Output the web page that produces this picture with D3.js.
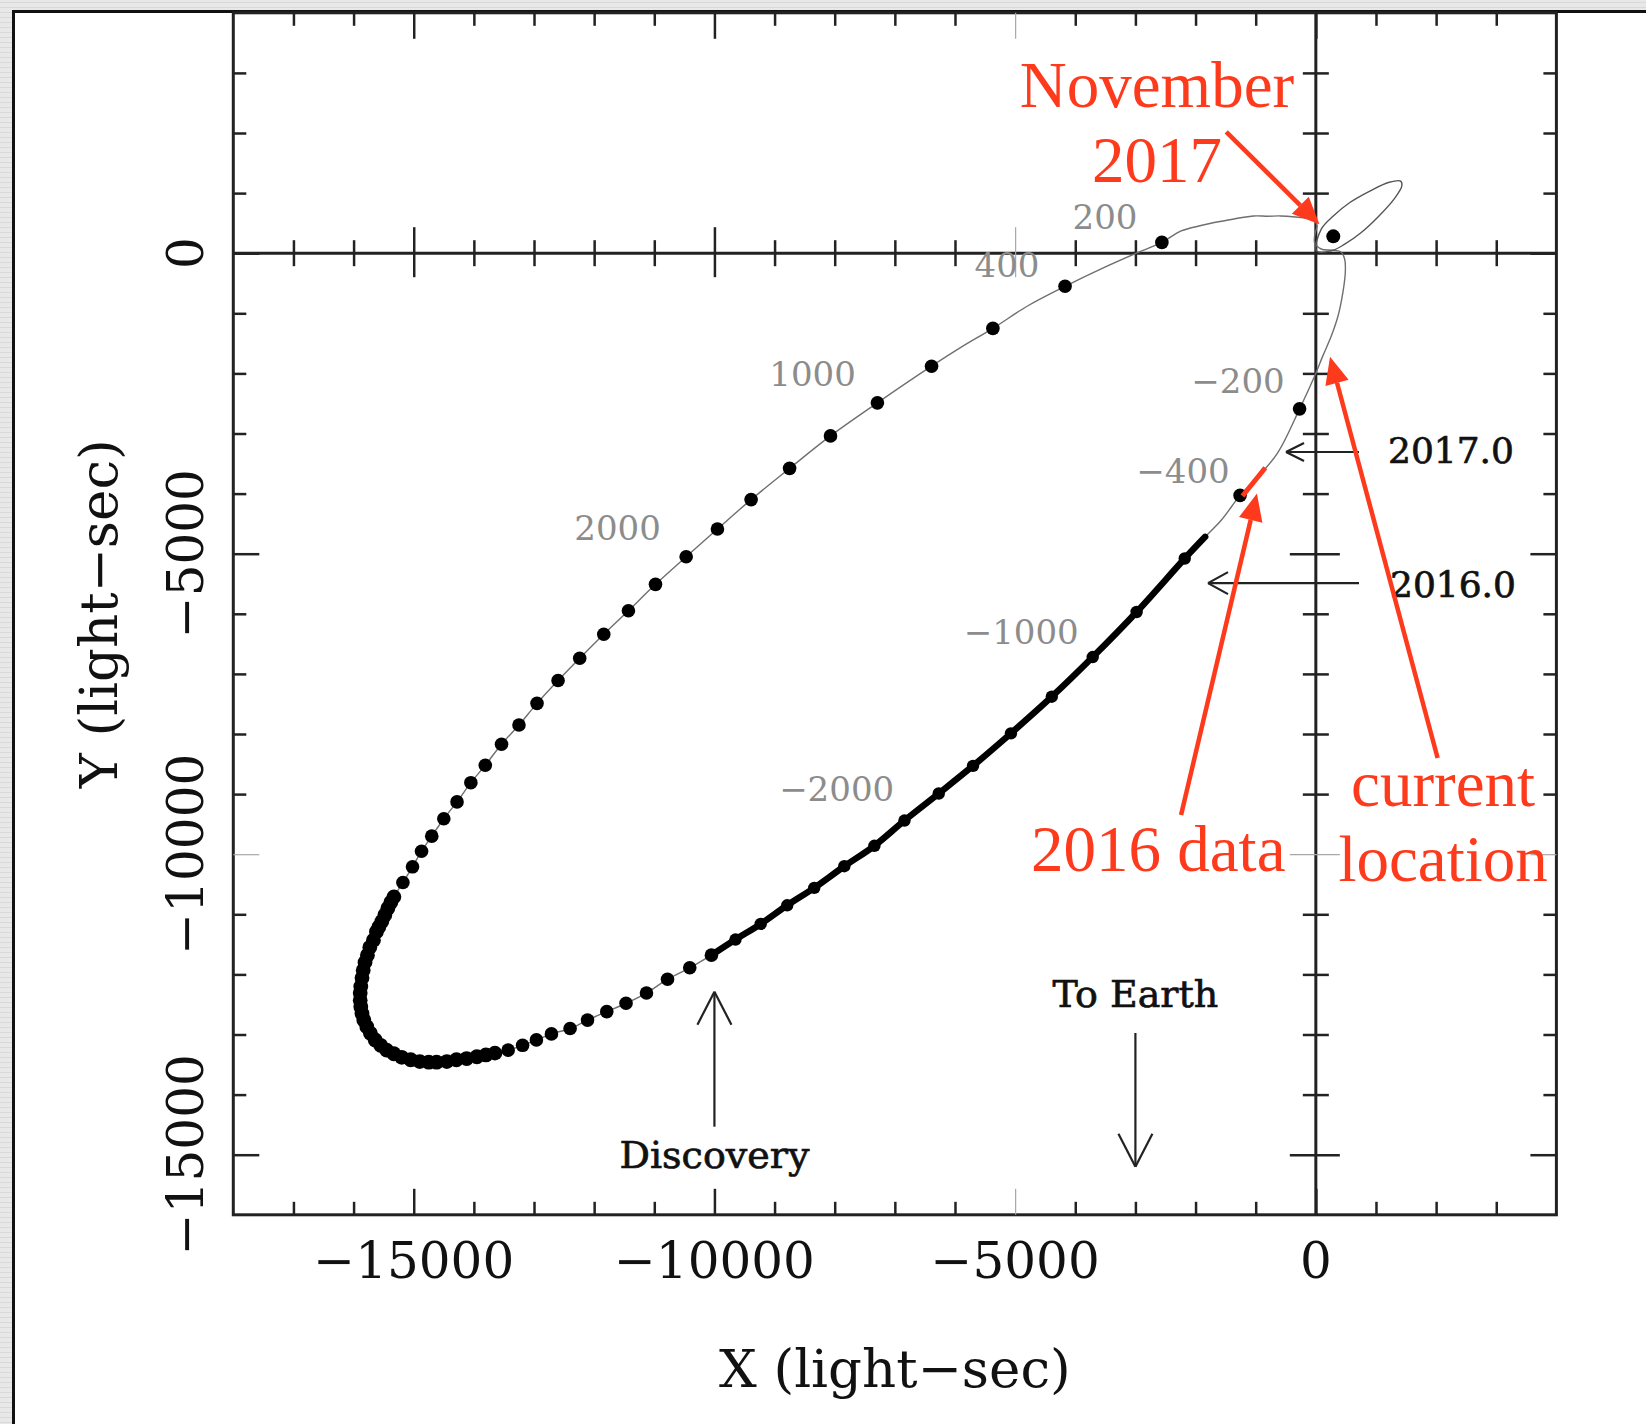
<!DOCTYPE html>
<html>
<head>
<meta charset="utf-8">
<script src="https://cdn.jsdelivr.net/npm/d3@7"></script>
<style>
  body { margin: 0; background: #fff; }
  svg { display: block; }
</style>
</head>
<body>
<svg id="chart" width="1646" height="1424"></svg>
<script>
// ---------------------------------------------------------------
// Pulsar orbit (light-seconds), traced from discovery along the
// lower branch, through periastron, back round the far end.
// ---------------------------------------------------------------
const orbitTrack = [
  [-10050, -11680], [-9650, -11420], [-9230, -11160], [-8790, -10850], [-8340, -10560],
  [-7840, -10200], [-7340, -9860], [-6840, -9440], [-6270, -8990], [-5700, -8530],
  [-5070, -7990], [-4390, -7380], [-3710, -6720], [-2980, -5970], [-2180, -5080],
  [-1840, -4720], [-1570, -4440], [-1260, -4030], [-1020, -3780], [-640, -3330],
  [-270, -2590], [-40, -2090], [120, -1700], [260, -1370], [370, -1040],
  [450, -650], [490, -320], [480, -100], [420, 20], [290, 50],
  [90, 70], [-20, 180], [-10, 340], [20, 460], [-40, 550],
  [-210, 590], [-590, 620], [-800, 615], [-1030, 620], [-1360, 570],
  [-1690, 510], [-1910, 460], [-2240, 370], [-2560, 180], [-3010, -10],
  [-3570, -260], [-4170, -550], [-4780, -870], [-5370, -1250], [-5890, -1560],
  [-6390, -1880], [-7290, -2490], [-8070, -3040], [-8750, -3580], [-9390, -4100],
  [-9950, -4590], [-10470, -5050], [-10980, -5510], [-11430, -5950], [-11840, -6340],
  [-12240, -6740], [-12600, -7110], [-12950, -7490], [-13250, -7850], [-13540, -8170],
  [-13810, -8520], [-14050, -8810], [-14280, -9130], [-14500, -9410], [-14700, -9700],
  [-14870, -9950], [-15020, -10210], [-15180, -10470], [-15330, -10710], [-15430, -10900],
  [-15530, -11120], [-15620, -11340], [-15700, -11570], [-15770, -11790], [-15840, -12010],
  [-15880, -12230], [-15890, -12430], [-15870, -12650], [-15780, -12870], [-15640, -13090],
  [-15450, -13260], [-15200, -13380], [-14900, -13450], [-14620, -13460], [-14290, -13420],
  [-13950, -13370], [-13650, -13310], [-13430, -13260], [-13190, -13180], [-12960, -13090],
  [-12710, -12990], [-12400, -12900], [-12110, -12760], [-11790, -12620], [-11470, -12480],
  [-11130, -12310], [-10780, -12080], [-10410, -11890]
];

// Timing coverage since discovery (drawn heavy)
const timedArc = [
  [-10050, -11680], [-9650, -11420], [-9230, -11160], [-8790, -10850], [-8340, -10560],
  [-7840, -10200], [-7340, -9860], [-6840, -9440], [-6270, -8990], [-5700, -8530],
  [-5070, -7990], [-4390, -7380], [-3710, -6720], [-2980, -5970], [-2180, -5080],
  [-1840, -4720]
];

// Positions at regular epochs along the orbit
const epochDots = [
  [-2560, 180], [-4170, -550], [-5370, -1250], [-6390, -1880], [-7290, -2490],
  [-8070, -3040], [-8750, -3580], [-9390, -4100], [-9950, -4590], [-10470, -5050],
  [-10980, -5510], [-11430, -5950], [-11840, -6340], [-12240, -6740], [-12600, -7110],
  [-12950, -7490], [-13250, -7850], [-13540, -8170], [-13810, -8520], [-14050, -8810],
  [-14280, -9130], [-14500, -9410], [-14700, -9700], [-14870, -9950], [-15020, -10210],
  [-15180, -10470],
  [-13430, -13260], [-13190, -13180], [-12960, -13090], [-12710, -12990], [-12400, -12900],
  [-12110, -12760], [-11790, -12620], [-11470, -12480], [-11130, -12310], [-10780, -12080],
  [-10410, -11890], [-10050, -11680],
  [-1260, -4030], [-270, -2590]
];
// Epoch positions crowded together round apastron
const apastronDots = [
  [-15330, -10710], [-15380, -10800], [-15430, -10900], [-15480, -11010], [-15530, -11120],
  [-15580, -11210], [-15620, -11290], [-15670, -11430], [-15730, -11550], [-15770, -11680],
  [-15810, -11800], [-15840, -11930], [-15860, -12060], [-15880, -12200], [-15890, -12310],
  [-15890, -12430], [-15880, -12540], [-15860, -12650], [-15830, -12760], [-15780, -12870],
  [-15720, -12980], [-15640, -13090], [-15550, -13180], [-15450, -13260], [-15330, -13320],
  [-15200, -13380], [-15050, -13420], [-14900, -13450], [-14750, -13460], [-14620, -13460],
  [-14450, -13450], [-14290, -13420], [-14120, -13400], [-13950, -13370], [-13800, -13340],
  [-13650, -13310]
];
const timedDots = [
  [-9650, -11420], [-9230, -11160], [-8790, -10850], [-8340, -10560], [-7840, -10200],
  [-7340, -9860], [-6840, -9440], [-6270, -8990], [-5700, -8530], [-5070, -7990],
  [-4390, -7380], [-3710, -6720], [-2980, -5970], [-2180, -5080]
];

// Companion's own orbit about the centre of mass, and its present place
const companionOrbit = [
  [10, 40], [90, 400], [290, 620], [560, 840], [890, 1030], [1220, 1180],
  [1410, 1200], [1430, 1120], [1300, 900], [1050, 620], [750, 340],
  [480, 150], [260, 40]
];
const companionNow = [[290, 280]];

// Days from periastron written along the orbit
const dayValues = [200, 400, 1000, 2000, -200, -400, -1000, -2000];
const dayAnchors = [
  [-3505, 607], [-5135, -196], [-8369, -2010], [-11611, -4572],
  [-1294, -2126], [-2208, -3624], [-4899, -6296], [-7968, -8915]
];

// Stretch covered by the 2016 observations
const obs2016 = [[-1220, -4040], [-840, -3570]];

// Axis ticks
const xDomain = [-18000, 4000];
const yDomain = [-16000, 4000];
const xTickValues = d3.range(-17000, 4000, 1000);
const yTickValues = d3.range(-15000, 4000, 1000);
const xTickLabels = [-15000, -10000, -5000, 0];
const yTickLabels = [0, -5000, -10000, -15000];
const xFaint = [-5000];
const yFaint = [-10000];

// ---------------------------------------------------------------
const W = 1646, H = 1424;
const svg = d3.select("#chart");

const x = d3.scaleLinear().domain(xDomain).range([233.3, 1556.4]);
const y = d3.scaleLinear().domain(yDomain).range([1214.8, 12.8]);

const INK = "#222";
const RED = "#fe3a1c";
const SERIF = "'DejaVu Serif', serif";
const ROMAN = "'Liberation Serif', 'Times New Roman', serif";

// slide background and border
const defs = svg.append("defs");
const linen = defs.append("pattern").attr("id", "linen")
  .attr("patternUnits", "userSpaceOnUse").attr("width", 9).attr("height", 5);
linen.append("rect").attr("width", 9).attr("height", 5).attr("fill", "#e8e8e8");
linen.append("rect").attr("y", 2).attr("width", 9).attr("height", 1).attr("fill", "#d9d9d9");
svg.append("rect").attr("width", W).attr("height", H).attr("fill", "url(#linen)");
svg.append("rect").attr("x", 13).attr("y", 11).attr("width", W - 13).attr("height", H - 11).attr("fill", "#fff");
svg.append("path").attr("d", `M13.5,${H} V11.5 H${W}`)
  .attr("fill", "none").attr("stroke", "#111").attr("stroke-width", 3);

// plot frame
const x0 = x(xDomain[0]), x1 = x(xDomain[1]), yT = y(yDomain[1]), yB = y(yDomain[0]);
svg.append("rect").attr("x", x0).attr("y", yT).attr("width", x1 - x0).attr("height", yB - yT)
  .attr("fill", "none").attr("stroke", INK).attr("stroke-width", 3);

// zero axes through the plot
svg.append("line").attr("x1", x0).attr("x2", x1).attr("y1", y(0)).attr("y2", y(0))
  .attr("stroke", INK).attr("stroke-width", 3);
svg.append("line").attr("x1", x(0)).attr("x2", x(0)).attr("y1", yT).attr("y2", yB)
  .attr("stroke", INK).attr("stroke-width", 3);

const MINOR = 13, MAJOR = 26;
const isMajor = v => v % 5000 === 0;
function styleTicks(g, faint) {
  g.select(".domain").remove();
  g.selectAll(".tick text").remove();
  g.selectAll(".tick line")
    .attr("stroke", d => faint.includes(d) ? "#a8a8a8" : INK)
    .attr("stroke-width", d => faint.includes(d) ? 1.2 : 2.5);
}

// frame ticks
svg.append("g").attr("transform", `translate(0,${yT})`)
  .call(d3.axisBottom(x).tickValues(xTickValues).tickFormat(""))
  .call(g => styleTicks(g, xFaint))
  .call(g => g.selectAll(".tick line").attr("y2", d => isMajor(d) ? MAJOR : MINOR));
svg.append("g").attr("transform", `translate(0,${yB})`)
  .call(d3.axisTop(x).tickValues(xTickValues).tickFormat(""))
  .call(g => styleTicks(g, xFaint))
  .call(g => g.selectAll(".tick line").attr("y2", d => isMajor(d) ? -MAJOR : -MINOR));
svg.append("g").attr("transform", `translate(${x0},0)`)
  .call(d3.axisRight(y).tickValues(yTickValues).tickFormat(""))
  .call(g => styleTicks(g, yFaint))
  .call(g => g.selectAll(".tick line").attr("x2", d => isMajor(d) ? MAJOR : MINOR));
svg.append("g").attr("transform", `translate(${x1},0)`)
  .call(d3.axisLeft(y).tickValues(yTickValues).tickFormat(""))
  .call(g => styleTicks(g, yFaint))
  .call(g => g.selectAll(".tick line").attr("x2", d => isMajor(d) ? -MAJOR : -MINOR));

// ticks crossing the zero axes
svg.append("g").attr("transform", `translate(0,${y(0)})`)
  .call(d3.axisBottom(x).tickValues(xTickValues.filter(v => v !== 0)).tickFormat(""))
  .call(g => styleTicks(g, xFaint))
  .call(g => g.selectAll(".tick line")
    .attr("y1", d => isMajor(d) ? -MAJOR : -MINOR)
    .attr("y2", d => isMajor(d) ? MAJOR - 2 : MINOR));
svg.append("g").attr("transform", `translate(${x(0)},0)`)
  .call(d3.axisRight(y).tickValues(yTickValues.filter(v => v !== 0)).tickFormat(""))
  .call(g => styleTicks(g, yFaint))
  .call(g => g.selectAll(".tick line")
    .attr("x1", d => isMajor(d) ? -MAJOR : -MINOR)
    .attr("x2", d => isMajor(d) ? MAJOR - 2 : MINOR));

// tick labels
const fmt = d3.format("d");
svg.append("g").selectAll("text").data(xTickLabels).join("text")
  .attr("x", d => x(d)).attr("y", 1278)
  .attr("text-anchor", "middle")
  .attr("font-family", SERIF).attr("font-size", 50).attr("fill", "#111")
  .text(fmt);
svg.append("g").selectAll("text").data(yTickLabels).join("text")
  .attr("transform", d => `translate(203,${y(d)}) rotate(-90)`)
  .attr("text-anchor", "middle")
  .attr("font-family", SERIF).attr("font-size", 50).attr("fill", "#111")
  .text(fmt);

// axis titles
svg.append("text").attr("x", (x0 + x1) / 2).attr("y", 1387)
  .attr("text-anchor", "middle").attr("font-family", SERIF).attr("font-size", 53)
  .attr("fill", "#111").text("X (light\u2212sec)");
svg.append("text").attr("transform", `translate(117,${(yT + yB) / 2}) rotate(-90)`)
  .attr("text-anchor", "middle").attr("font-family", SERIF).attr("font-size", 53)
  .attr("fill", "#111").text("Y (light\u2212sec)");

// ---------------------------------------------------------------
// orbits
const line = d3.line().x(d => x(d[0])).y(d => y(d[1]));
svg.append("path").datum(orbitTrack)
  .attr("d", line.curve(d3.curveCatmullRomClosed.alpha(0.5)))
  .attr("fill", "none").attr("stroke", "#6f6f6f").attr("stroke-width", 1.4);
svg.append("path").datum(companionOrbit)
  .attr("d", line.curve(d3.curveCatmullRomClosed.alpha(0.5)))
  .attr("fill", "none").attr("stroke", "#555").attr("stroke-width", 1.4);
svg.append("path").datum(timedArc)
  .attr("d", line.curve(d3.curveCatmullRom.alpha(0.5)))
  .attr("fill", "none").attr("stroke", "#000").attr("stroke-width", 6.5)
  .attr("stroke-linecap", "round");

svg.append("g").selectAll("circle").data(epochDots).join("circle")
  .attr("cx", d => x(d[0])).attr("cy", d => y(d[1])).attr("r", 6.8).attr("fill", "#000");
svg.append("g").selectAll("circle").data(apastronDots).join("circle")
  .attr("cx", d => x(d[0])).attr("cy", d => y(d[1])).attr("r", 7.4).attr("fill", "#000");
svg.append("g").selectAll("circle").data(timedDots).join("circle")
  .attr("cx", d => x(d[0])).attr("cy", d => y(d[1])).attr("r", 6.2).attr("fill", "#000");
svg.append("g").selectAll("circle").data(companionNow).join("circle")
  .attr("cx", d => x(d[0])).attr("cy", d => y(d[1])).attr("r", 7).attr("fill", "#000");

// day labels
const dayFmt = d3.format("d");
svg.append("g").selectAll("text").data(dayValues).join("text")
  .attr("x", (d, i) => x(dayAnchors[i][0])).attr("y", (d, i) => y(dayAnchors[i][1]))
  .attr("dy", "0.36em").attr("text-anchor", "middle")
  .attr("font-family", SERIF).attr("font-size", 34).attr("fill", "#8c8c8c")
  .text(dayFmt);

// ---------------------------------------------------------------
// black annotations
function openArrow(g, from, to, len, half) {
  const [ax, ay] = [x(from[0]), y(from[1])];
  const [bx, by] = [x(to[0]), y(to[1])];
  const ang = Math.atan2(by - ay, bx - ax);
  g.append("line").attr("x1", ax).attr("y1", ay).attr("x2", bx).attr("y2", by);
  for (const s of [-1, 1]) {
    g.append("line").attr("x1", bx).attr("y1", by)
      .attr("x2", bx - len * Math.cos(ang) + s * half * Math.sin(ang))
      .attr("y2", by - len * Math.sin(ang) - s * half * Math.cos(ang));
  }
}
const notes = svg.append("g").attr("stroke", "#222").attr("stroke-width", 2.2).attr("fill", "none");
openArrow(notes, [-3000, -12975], [-3000, -15200], 33, 17);
openArrow(notes, [-10000, -14534], [-10000, -12288], 33, 17);
openArrow(notes, [718, -3308], [-496, -3308], 18, 9);
openArrow(notes, [718, -5490], [-1793, -5490], 20, 11);

const labelStyle = t => t.attr("font-family", SERIF).attr("fill", "#111")
  .attr("stroke", "#111").attr("stroke-width", 0.7);
svg.append("text").attr("x", x(-3000)).attr("y", y(-12537)).attr("text-anchor", "middle")
  .attr("font-size", 38).call(labelStyle).text("To Earth");
svg.append("text").attr("x", x(-10000)).attr("y", y(-15227)).attr("text-anchor", "middle")
  .attr("font-size", 38).call(labelStyle).text("Discovery");
svg.append("text").attr("x", x(1200)).attr("y", y(-3491))
  .attr("font-size", 36).call(labelStyle).text("2017.0");
svg.append("text").attr("x", x(1233)).attr("y", y(-5720))
  .attr("font-size", 36).call(labelStyle).text("2016.0");

// ---------------------------------------------------------------
// red annotations
const red = svg.append("g");
red.append("path").datum(obs2016).attr("d", line.curve(d3.curveLinear))
  .attr("stroke", RED).attr("stroke-width", 5).attr("fill", "none");

function redArrow(from, to) {
  const [ax, ay] = [x(from[0]), y(from[1])];
  const [bx, by] = [x(to[0]), y(to[1])];
  const ang = Math.atan2(by - ay, bx - ax);
  const len = 27, half = 12;
  const baseX = bx - len * Math.cos(ang), baseY = by - len * Math.sin(ang);
  red.append("line").attr("x1", ax).attr("y1", ay).attr("x2", baseX).attr("y2", baseY)
    .attr("stroke", RED).attr("stroke-width", 4.5);
  red.append("path")
    .attr("d", `M${bx},${by} L${baseX + half * Math.sin(ang)},${baseY - half * Math.cos(ang)} ` +
               `L${baseX - half * Math.sin(ang)},${baseY + half * Math.cos(ang)} Z`)
    .attr("fill", RED);
}
redArrow([-1490, 2020], [60, 480]);
redArrow([-2241, -9348], [-980, -4000]);
redArrow([2025, -8399], [236, -1722]);

const redText = (px, py, str, anchor) => red.append("text")
  .attr("x", x(px)).attr("y", y(py)).attr("text-anchor", anchor)
  .attr("font-family", ROMAN).attr("font-size", 65).attr("fill", RED).text(str);
redText(-2641, 2433, "November", "middle");
redText(-2641, 1185, "2017", "middle");
redText(-4736, -10280, "2016 data", "start");
redText(2116, -9198, "current", "middle");
redText(2116, -10438, "location", "middle");
</script>
</body>
</html>
